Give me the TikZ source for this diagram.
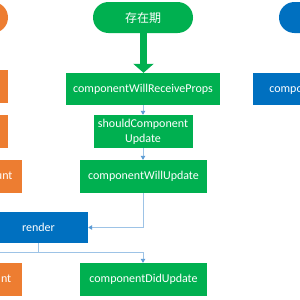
\documentclass[tikz,border=0pt]{standalone}
\usepackage{fontspec}
\setmainfont{Carlito}
\newfontfamily\cjk{Noto Sans CJK SC}
\usetikzlibrary{arrows.meta}
\definecolor{pgreen}{RGB}{0,176,80}
\definecolor{porange}{RGB}{237,125,49}
\definecolor{pblue}{RGB}{0,112,192}
\definecolor{linkblue}{RGB}{157,195,230}
\definecolor{tipblue}{RGB}{91,155,213}
\tikzset{
  box/.style={minimum width=#1, inner sep=0pt, text=white, align=center,
    font=\fontsize{12}{15}\selectfont},
  gbox/.style={box=#1, fill=pgreen},
  obox/.style={box=#1, fill=porange},
  bbox/.style={box=#1, fill=pblue},
  pill/.style={minimum width=100pt, minimum height=31pt, inner sep=0pt,
    rounded corners=15.5pt, text=white, font=\fontsize{12}{15}\selectfont\cjk},
  link/.style={draw=linkblue, line width=0.9pt,
    -{Triangle[width=4.5pt,length=4pt,fill=tipblue,color=tipblue]}},
}
\begin{document}
\begin{tikzpicture}[x=1pt,y=-1pt]
\useasboundingbox (0,0) rectangle (300,300);
\clip (0,0) rectangle (300,300);
\fill[white] (0,0) rectangle (300,300);
% pills
\node[pill, fill=porange, minimum width=99pt] (pcreate) at (-41.5,17.5) {};
\node[pill, fill=pgreen] (pexist) at (143,17.5) {存在期};
\node[pill, fill=pblue] (pdestroy) at (329,17.5) {};
% orange column
\node[obox=99pt, minimum height=33pt] (o1) at (-41.5,86.5) {};
\node[obox=99pt, minimum height=33pt] (o2) at (-41.5,131.5) {};
\node[obox=127pt, minimum height=33pt] (wmount) at (-41.5,176.5) {componentWillMount};
\node[obox=127pt, minimum height=33pt] (dmount) at (-41.5,279.5) {componentDidMount};
% green column
\node[gbox=154pt, minimum height=32pt] (wrp) at (143,89) {componentWillReceiveProps};
\node[gbox=99pt, minimum height=33pt] (scu) at (143,131.5) {shouldComponent\\Update};
\node[gbox=127pt, minimum height=33pt] (wu) at (143.5,176.5) {componentWillUpdate};
\node[gbox=127pt, minimum height=33pt] (du) at (143.5,279.5) {componentDidUpdate};
% blue
\node[bbox=99pt, minimum height=31pt] (render) at (38.5,227.5) {render};
\node[bbox=154pt, minimum height=32pt] (wun) at (330,89) {componentWillUnmount};
% big green arrow
\draw[pgreen, line width=7pt, -{Triangle[width=20pt,length=9pt]}] (pexist.south -| 143.5,0) -- (wrp.north -| 143.5,0);
% connectors
\draw[link] (wrp.south) -- (scu.north);
\draw[link] (scu.south) -- (wu.north -| scu.south);
\draw[link] (wu.south -| scu.south) |- (render.east);
\coordinate (split) at (38.5,252);
\draw[draw=linkblue, line width=0.9pt] (render.south) -- (split);
\draw[link] (split) -| (du.north -| scu.south);
\draw[link] (split) -| (dmount.north);
\end{tikzpicture}
\end{document}
